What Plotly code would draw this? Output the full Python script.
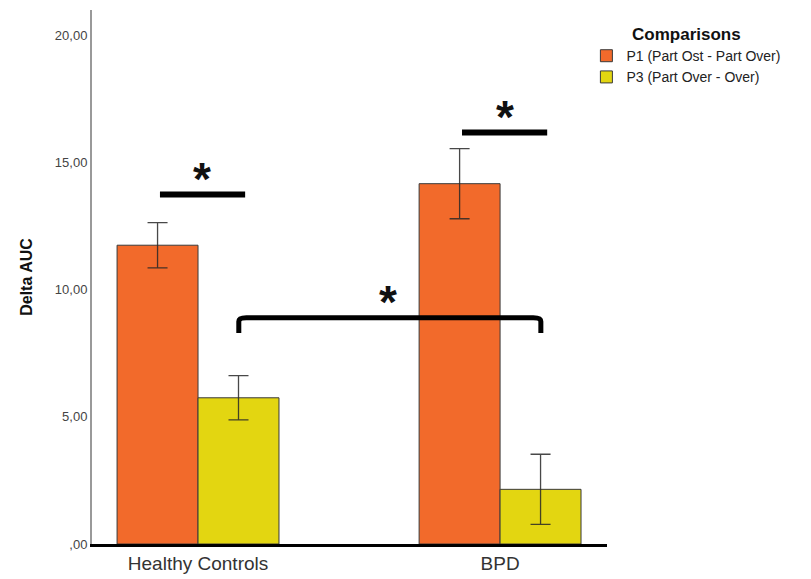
import plotly.graph_objects as go

groups = ["Healthy Controls", "BPD"]
p1_means = [11.75, 14.17]
p1_err = [0.89, 1.38]
p3_means = [5.75, 2.15]
p3_err = [0.87, 1.38]
series_names = ["P1 (Part Ost - Part Over)", "P3 (Part Over - Over)"]
ytick_vals = [0, 5, 10, 15, 20]
ytick_text = [",00", "5,00", "10,00", "15,00", "20,00"]

orange = "#F26A2B"
yellow = "#E3D611"
errcol = "rgba(40,40,40,0.85)"

fig = go.Figure()
for name, means, errs, col in [(series_names[0], p1_means, p1_err, orange),
                               (series_names[1], p3_means, p3_err, yellow)]:
    fig.add_trace(go.Bar(
        x=groups, y=means, name=name,
        marker=dict(color=col, line=dict(color="#3a3a3a", width=1)),
        error_y=dict(type="data", array=errs, visible=True,
                     color=errcol, thickness=1.3, width=10),
    ))

# significance marks
line_style = dict(color="black", width=6)
fig.add_shape(type="line", xref="x", yref="y", x0=-0.126, x1=0.156, y0=13.74, y1=13.74, line=line_style)
fig.add_shape(type="line", xref="x", yref="y", x0=0.874, x1=1.156, y0=16.18, y1=16.18, line=line_style)
fig.add_shape(type="path", xref="x", yref="y",
              path="M 0.135 8.3 L 0.135 8.75 Q 0.135 8.9 0.16 8.9 L 1.11 8.9 Q 1.135 8.9 1.135 8.75 L 1.135 8.3",
              line=dict(color="black", width=5))

star_font = dict(family="Liberation Sans, Arial", size=46, color="#111111")
for x, y in [(0.013, 13.74), (1.015, 16.18), (0.629, 8.9)]:
    fig.add_annotation(x=x, y=y, xref="x", yref="y", text="<b>*</b>", showarrow=False,
                       yanchor="bottom", yshift=-12, font=star_font)

fig.update_layout(
    width=811, height=579,
    margin=dict(l=84, r=212, t=2, b=43),
    plot_bgcolor="white", paper_bgcolor="white",
    barmode="group", bargap=0.464, bargroupgap=0,
    font=dict(family="Liberation Sans, Arial", color="#333333"),
    showlegend=True,
    legend=dict(
        x=0.96, xanchor="left", y=0.985, yanchor="top",
        title=dict(text="<b>Comparisons</b>", font=dict(size=17, color="#111111"), side="top center"),
        font=dict(size=14, color="#222222"),
        itemwidth=30, tracegroupgap=0,
    ),
    xaxis=dict(
        range=[-0.351, 1.354], showgrid=False,
        showline=True, linecolor="black", linewidth=2.5,
        ticks="", tickfont=dict(size=19, color="#333333"),
    ),
    yaxis=dict(
        range=[0, 21.0], showgrid=False, zeroline=False,
        showline=True, linecolor="#999999", linewidth=2,
        tickvals=ytick_vals, ticktext=ytick_text, ticks="",
        tickfont=dict(size=13, color="#444444"),
        title=dict(text="<b>Delta AUC</b>", font=dict(size=16, color="#111111"), standoff=18),
    ),
)

fig.write_html("out.html")
